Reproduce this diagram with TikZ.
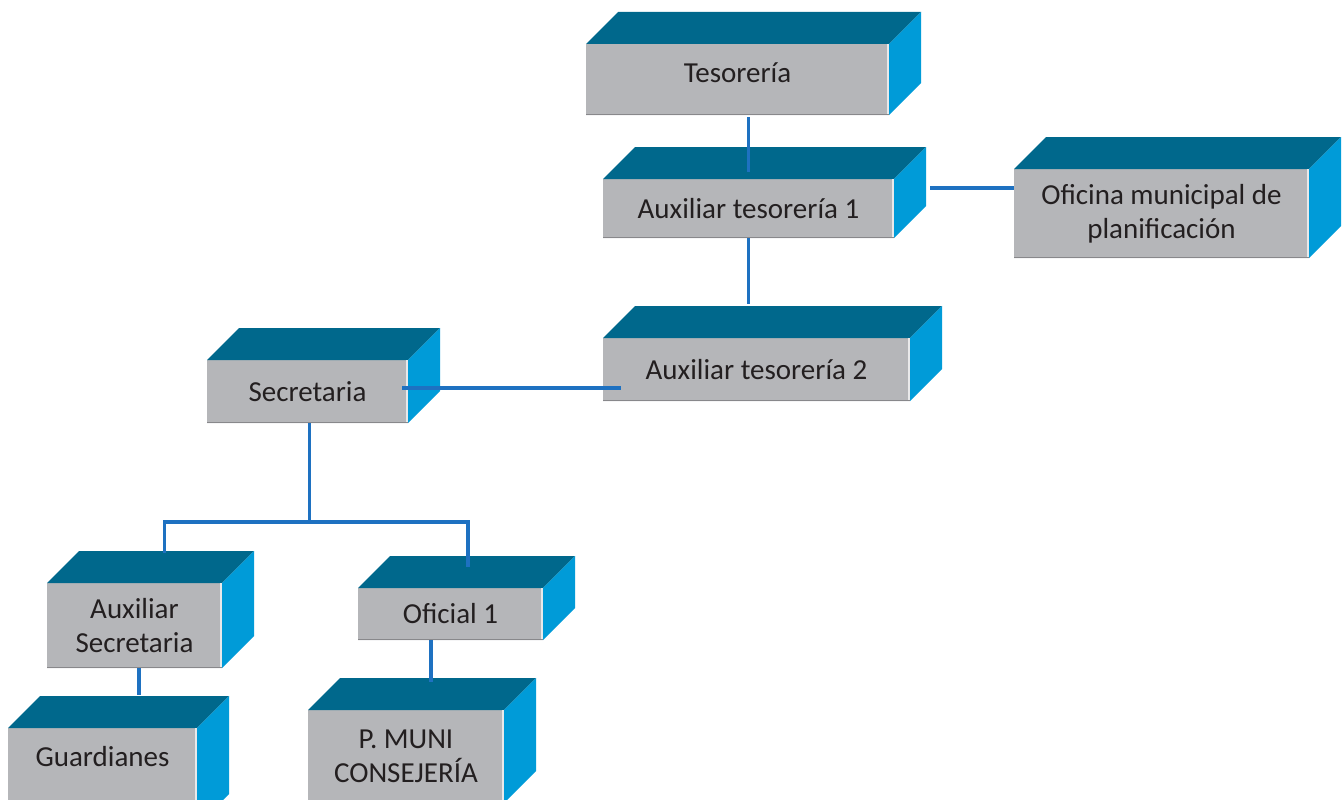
\documentclass[tikz,border=0pt]{standalone}
\usepackage{fontspec}
\setmainfont{Carlito}
\usetikzlibrary{calc}
\definecolor{topc}{RGB}{0,104,140}
\definecolor{sidec}{RGB}{0,155,216}
\definecolor{frontc}{RGB}{181,182,185}
\definecolor{connc}{RGB}{30,113,193}
\definecolor{txtc}{RGB}{35,31,32}
\tikzset{
  frontbox/.style={fill=frontc, inner sep=0pt, outer sep=0pt, align=center,
    text=txtc, font=\fontsize{29}{34}\selectfont},
  conn/.style={draw=connc, line width=3.6pt},
}
\newcommand{\cuboid}[7]{%
  \node[frontbox, minimum width=#4pt, minimum height=#5pt, anchor=north west] (#1) at (#2,#3) {#7};
  \fill[frontc] (#1.south west) rectangle ($(#1.south east)+(0,#6)$);
  \fill[topc] (#1.north west) -- ++(32,-32) -- ($(#1.north east)+(32,-32)$) -- (#1.north east) -- cycle;
  \fill[sidec] (#1.north east) -- ++(32,-32) -- ($(#1.south east)+(32,-32)+(0,#6)$) -- ($(#1.south east)+(0,#6)$) -- cycle;
  \draw[white!70!frontc, line width=2pt] ($(#1.north east)+(-1.5,0)$) -- ($(#1.south east)+(-1.5,#6)$);
  \draw[black!25!frontc, line width=1.2pt] ($(#1.south west)+(0,#6)+(0,-0.6)$) -- ($(#1.south east)+(0,#6)+(0,-0.6)$);
}
\begin{document}
\begin{tikzpicture}[x=1pt, y=-1pt]
\clip (0,0) rectangle (1344,800);
\useasboundingbox (0,0) rectangle (1344,800);
\fill[white] (0,0) rectangle (1344,800);

\cuboid{tes}{586}{44}{303}{71}{0}{Tesorería\\[-20pt]\mbox{}}
\cuboid{aux1}{603}{179}{291}{59}{0}{Auxiliar tesorería 1}
\cuboid{ofi}{1014}{169}{295}{89}{0}{Oficina municipal de\\planificación}
\cuboid{aux2}{603}{338}{307}{63}{0}{Auxiliar tesorería 2}
\cuboid{sec}{207}{360}{201}{63}{0}{Secretaria}
\cuboid{auxsec}{47}{583}{175}{85}{0}{Auxiliar\\Secretaria}
\cuboid{ofi1}{358}{588}{185}{52}{0}{Oficial 1}
\cuboid{guard}{8}{728}{189}{58}{40}{Guardianes}
\cuboid{pmuni}{308}{710}{196}{93}{0}{P. MUNI\\CONSEJERÍA}

% connectors
\draw[conn] ($(aux1.north |- tes.south)+(0,2)$) -- ($(aux1.north)+(0,-7)$);
\draw[conn] (aux1.south) -- ($(aux1.south |- aux2.north)+(0,-34)$);
\draw[conn] ($(aux1.north east)+(36,9)$) -- ($(ofi.north west)+(0,19)$);
\draw[conn] ($(sec.north east)+(-6,28)$) -- ($(aux2.north west)+(18,50)$);
\draw[conn] ($(sec.south)+(2,0)$) -- ($(sec.south)+(2,99)$);
\draw[conn] ($(auxsec.north)+(30,-30)$) |- ($(sec.south)+(2,99)$) -| ($(ofi1.north)+(17.5,-21)$);
\draw[conn] ($(auxsec.south)+(4.5,0)$) -- ($(auxsec.south)+(4.5,27)$) coordinate (gtop);
\draw[conn] ($(ofi1.south)+(-19.5,0)$) -- ($(ofi1.south)+(-19.5,42)$);
\end{tikzpicture}
\end{document}
